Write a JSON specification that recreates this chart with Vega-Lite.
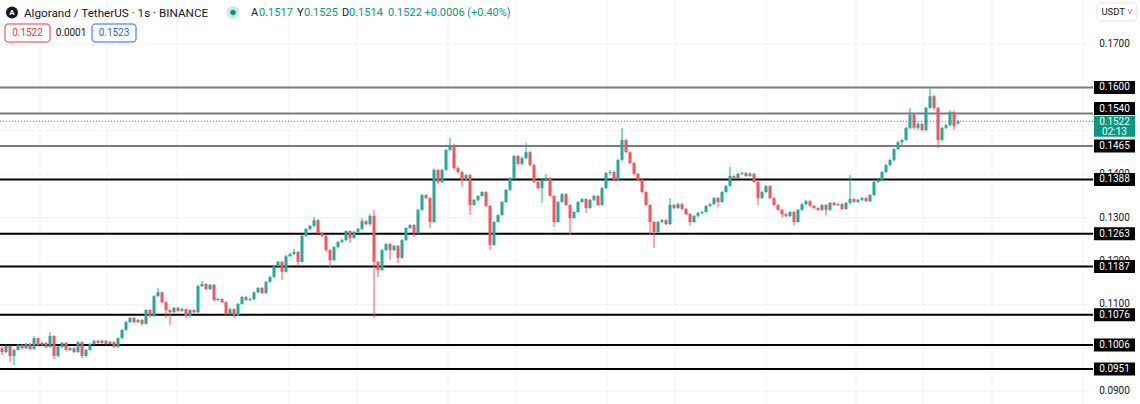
{
"$schema": "https://vega.github.io/schema/vega-lite/v6.json",
"width": 1140, "height": 404, "padding": 0, "autosize": {"type": "none"},
"background": "#ffffff",
"config": {"view": {"stroke": null}, "font": "Roboto", "text": {"font": "Roboto"}, "scale": {"continuousPadding": 0}},
"datasets": {
"candles": [
{"i":0,"o":0.0999,"h":0.1006,"l":0.0983,"c":0.0990},
{"i":1,"o":0.0990,"h":0.1007,"l":0.0987,"c":0.1004},
{"i":2,"o":0.1004,"h":0.1006,"l":0.0967,"c":0.0981},
{"i":3,"o":0.0981,"h":0.0997,"l":0.0960,"c":0.0995},
{"i":4,"o":0.0995,"h":0.1009,"l":0.0993,"c":0.1006},
{"i":5,"o":0.1006,"h":0.1009,"l":0.0996,"c":0.0999},
{"i":6,"o":0.0999,"h":0.1011,"l":0.0997,"c":0.1009},
{"i":7,"o":0.1009,"h":0.1011,"l":0.0994,"c":0.0997},
{"i":8,"o":0.0997,"h":0.1027,"l":0.0995,"c":0.1022},
{"i":9,"o":0.1022,"h":0.1024,"l":0.1003,"c":0.1006},
{"i":10,"o":0.1006,"h":0.1014,"l":0.1003,"c":0.1011},
{"i":11,"o":0.1011,"h":0.1013,"l":0.0999,"c":0.1002},
{"i":12,"o":0.1002,"h":0.1036,"l":0.1000,"c":0.1027},
{"i":13,"o":0.1027,"h":0.1029,"l":0.0974,"c":0.0981},
{"i":14,"o":0.0981,"h":0.1004,"l":0.0978,"c":0.1002},
{"i":15,"o":0.1002,"h":0.1014,"l":0.0999,"c":0.1011},
{"i":16,"o":0.1011,"h":0.1013,"l":0.0992,"c":0.0995},
{"i":17,"o":0.0995,"h":0.1002,"l":0.0992,"c":0.0999},
{"i":18,"o":0.0999,"h":0.1002,"l":0.0988,"c":0.0990},
{"i":19,"o":0.0990,"h":0.1016,"l":0.0988,"c":0.1013},
{"i":20,"o":0.1013,"h":0.1015,"l":0.0976,"c":0.0981},
{"i":21,"o":0.0981,"h":0.0997,"l":0.0979,"c":0.0995},
{"i":22,"o":0.0995,"h":0.1011,"l":0.0993,"c":0.1009},
{"i":23,"o":0.1009,"h":0.1018,"l":0.1006,"c":0.1016},
{"i":24,"o":0.1016,"h":0.1018,"l":0.1009,"c":0.1011},
{"i":25,"o":0.1011,"h":0.1019,"l":0.1009,"c":0.1016},
{"i":26,"o":0.1016,"h":0.1018,"l":0.1006,"c":0.1009},
{"i":27,"o":0.1009,"h":0.1016,"l":0.1007,"c":0.1013},
{"i":28,"o":0.1013,"h":0.1015,"l":0.0999,"c":0.1002},
{"i":29,"o":0.1002,"h":0.1024,"l":0.1000,"c":0.1022},
{"i":30,"o":0.1022,"h":0.1043,"l":0.1020,"c":0.1041},
{"i":31,"o":0.1041,"h":0.1062,"l":0.1039,"c":0.1059},
{"i":32,"o":0.1059,"h":0.1071,"l":0.1057,"c":0.1069},
{"i":33,"o":0.1069,"h":0.1071,"l":0.1057,"c":0.1059},
{"i":34,"o":0.1059,"h":0.1067,"l":0.1057,"c":0.1064},
{"i":35,"o":0.1064,"h":0.1066,"l":0.1052,"c":0.1055},
{"i":36,"o":0.1055,"h":0.1090,"l":0.1053,"c":0.1087},
{"i":37,"o":0.1087,"h":0.1089,"l":0.1069,"c":0.1073},
{"i":38,"o":0.1073,"h":0.1122,"l":0.1071,"c":0.1119},
{"i":39,"o":0.1119,"h":0.1138,"l":0.1117,"c":0.1128},
{"i":40,"o":0.1128,"h":0.1130,"l":0.1103,"c":0.1105},
{"i":41,"o":0.1105,"h":0.1107,"l":0.1069,"c":0.1087},
{"i":42,"o":0.1087,"h":0.1089,"l":0.1052,"c":0.1082},
{"i":43,"o":0.1082,"h":0.1094,"l":0.1080,"c":0.1092},
{"i":44,"o":0.1092,"h":0.1094,"l":0.1082,"c":0.1085},
{"i":45,"o":0.1085,"h":0.1092,"l":0.1083,"c":0.1089},
{"i":46,"o":0.1089,"h":0.1091,"l":0.1069,"c":0.1073},
{"i":47,"o":0.1073,"h":0.1089,"l":0.1071,"c":0.1087},
{"i":48,"o":0.1087,"h":0.1089,"l":0.1080,"c":0.1082},
{"i":49,"o":0.1082,"h":0.1145,"l":0.1080,"c":0.1142},
{"i":50,"o":0.1142,"h":0.1154,"l":0.1140,"c":0.1147},
{"i":51,"o":0.1147,"h":0.1149,"l":0.1133,"c":0.1135},
{"i":52,"o":0.1135,"h":0.1147,"l":0.1133,"c":0.1145},
{"i":53,"o":0.1145,"h":0.1147,"l":0.1107,"c":0.1110},
{"i":54,"o":0.1110,"h":0.1115,"l":0.1107,"c":0.1112},
{"i":55,"o":0.1112,"h":0.1115,"l":0.1103,"c":0.1105},
{"i":56,"o":0.1105,"h":0.1107,"l":0.1073,"c":0.1078},
{"i":57,"o":0.1078,"h":0.1092,"l":0.1075,"c":0.1089},
{"i":58,"o":0.1089,"h":0.1091,"l":0.1069,"c":0.1075},
{"i":59,"o":0.1075,"h":0.1103,"l":0.1073,"c":0.1101},
{"i":60,"o":0.1101,"h":0.1119,"l":0.1099,"c":0.1117},
{"i":61,"o":0.1117,"h":0.1120,"l":0.1108,"c":0.1110},
{"i":62,"o":0.1110,"h":0.1115,"l":0.1107,"c":0.1112},
{"i":63,"o":0.1112,"h":0.1130,"l":0.1110,"c":0.1128},
{"i":64,"o":0.1128,"h":0.1140,"l":0.1126,"c":0.1138},
{"i":65,"o":0.1138,"h":0.1140,"l":0.1124,"c":0.1126},
{"i":66,"o":0.1126,"h":0.1154,"l":0.1124,"c":0.1152},
{"i":67,"o":0.1152,"h":0.1166,"l":0.1150,"c":0.1163},
{"i":68,"o":0.1163,"h":0.1191,"l":0.1161,"c":0.1188},
{"i":69,"o":0.1188,"h":0.1200,"l":0.1186,"c":0.1198},
{"i":70,"o":0.1198,"h":0.1200,"l":0.1156,"c":0.1175},
{"i":71,"o":0.1175,"h":0.1214,"l":0.1173,"c":0.1211},
{"i":72,"o":0.1211,"h":0.1219,"l":0.1209,"c":0.1216},
{"i":73,"o":0.1216,"h":0.1228,"l":0.1214,"c":0.1221},
{"i":74,"o":0.1221,"h":0.1223,"l":0.1191,"c":0.1198},
{"i":75,"o":0.1198,"h":0.1260,"l":0.1196,"c":0.1258},
{"i":76,"o":0.1258,"h":0.1276,"l":0.1255,"c":0.1274},
{"i":77,"o":0.1274,"h":0.1283,"l":0.1271,"c":0.1281},
{"i":78,"o":0.1281,"h":0.1301,"l":0.1278,"c":0.1294},
{"i":79,"o":0.1294,"h":0.1297,"l":0.1262,"c":0.1264},
{"i":80,"o":0.1264,"h":0.1267,"l":0.1255,"c":0.1258},
{"i":81,"o":0.1258,"h":0.1260,"l":0.1221,"c":0.1225},
{"i":82,"o":0.1225,"h":0.1228,"l":0.1184,"c":0.1202},
{"i":83,"o":0.1202,"h":0.1235,"l":0.1200,"c":0.1232},
{"i":84,"o":0.1232,"h":0.1246,"l":0.1230,"c":0.1244},
{"i":85,"o":0.1244,"h":0.1251,"l":0.1241,"c":0.1248},
{"i":86,"o":0.1248,"h":0.1271,"l":0.1246,"c":0.1269},
{"i":87,"o":0.1269,"h":0.1271,"l":0.1241,"c":0.1253},
{"i":88,"o":0.1253,"h":0.1269,"l":0.1251,"c":0.1267},
{"i":89,"o":0.1267,"h":0.1276,"l":0.1264,"c":0.1274},
{"i":90,"o":0.1274,"h":0.1299,"l":0.1271,"c":0.1292},
{"i":91,"o":0.1292,"h":0.1294,"l":0.1283,"c":0.1285},
{"i":92,"o":0.1285,"h":0.1308,"l":0.1281,"c":0.1304},
{"i":93,"o":0.1304,"h":0.1318,"l":0.1069,"c":0.1198},
{"i":94,"o":0.1198,"h":0.1200,"l":0.1163,"c":0.1179},
{"i":95,"o":0.1179,"h":0.1228,"l":0.1177,"c":0.1225},
{"i":96,"o":0.1225,"h":0.1241,"l":0.1223,"c":0.1239},
{"i":97,"o":0.1239,"h":0.1241,"l":0.1202,"c":0.1225},
{"i":98,"o":0.1225,"h":0.1237,"l":0.1223,"c":0.1235},
{"i":99,"o":0.1235,"h":0.1237,"l":0.1195,"c":0.1207},
{"i":100,"o":0.1207,"h":0.1251,"l":0.1205,"c":0.1248},
{"i":101,"o":0.1248,"h":0.1278,"l":0.1246,"c":0.1276},
{"i":102,"o":0.1276,"h":0.1285,"l":0.1274,"c":0.1283},
{"i":103,"o":0.1283,"h":0.1285,"l":0.1255,"c":0.1264},
{"i":104,"o":0.1264,"h":0.1320,"l":0.1262,"c":0.1318},
{"i":105,"o":0.1318,"h":0.1355,"l":0.1315,"c":0.1352},
{"i":106,"o":0.1352,"h":0.1355,"l":0.1343,"c":0.1345},
{"i":107,"o":0.1345,"h":0.1348,"l":0.1276,"c":0.1290},
{"i":108,"o":0.1290,"h":0.1414,"l":0.1288,"c":0.1410},
{"i":109,"o":0.1410,"h":0.1412,"l":0.1377,"c":0.1382},
{"i":110,"o":0.1382,"h":0.1412,"l":0.1380,"c":0.1410},
{"i":111,"o":0.1410,"h":0.1458,"l":0.1408,"c":0.1456},
{"i":112,"o":0.1456,"h":0.1484,"l":0.1453,"c":0.1467},
{"i":113,"o":0.1467,"h":0.1470,"l":0.1410,"c":0.1414},
{"i":114,"o":0.1414,"h":0.1417,"l":0.1401,"c":0.1405},
{"i":115,"o":0.1405,"h":0.1408,"l":0.1371,"c":0.1387},
{"i":116,"o":0.1387,"h":0.1401,"l":0.1384,"c":0.1398},
{"i":117,"o":0.1398,"h":0.1401,"l":0.1306,"c":0.1329},
{"i":118,"o":0.1329,"h":0.1343,"l":0.1327,"c":0.1341},
{"i":119,"o":0.1341,"h":0.1352,"l":0.1338,"c":0.1350},
{"i":120,"o":0.1350,"h":0.1361,"l":0.1348,"c":0.1359},
{"i":121,"o":0.1359,"h":0.1361,"l":0.1324,"c":0.1327},
{"i":122,"o":0.1327,"h":0.1329,"l":0.1225,"c":0.1237},
{"i":123,"o":0.1237,"h":0.1292,"l":0.1235,"c":0.1290},
{"i":124,"o":0.1290,"h":0.1308,"l":0.1288,"c":0.1306},
{"i":125,"o":0.1306,"h":0.1338,"l":0.1304,"c":0.1336},
{"i":126,"o":0.1336,"h":0.1366,"l":0.1334,"c":0.1364},
{"i":127,"o":0.1364,"h":0.1394,"l":0.1361,"c":0.1391},
{"i":128,"o":0.1391,"h":0.1444,"l":0.1389,"c":0.1442},
{"i":129,"o":0.1442,"h":0.1444,"l":0.1421,"c":0.1424},
{"i":130,"o":0.1424,"h":0.1440,"l":0.1421,"c":0.1437},
{"i":131,"o":0.1437,"h":0.1472,"l":0.1435,"c":0.1451},
{"i":132,"o":0.1451,"h":0.1453,"l":0.1419,"c":0.1421},
{"i":133,"o":0.1421,"h":0.1424,"l":0.1380,"c":0.1382},
{"i":134,"o":0.1382,"h":0.1384,"l":0.1366,"c":0.1368},
{"i":135,"o":0.1368,"h":0.1389,"l":0.1334,"c":0.1387},
{"i":136,"o":0.1387,"h":0.1401,"l":0.1384,"c":0.1391},
{"i":137,"o":0.1391,"h":0.1394,"l":0.1348,"c":0.1350},
{"i":138,"o":0.1350,"h":0.1352,"l":0.1278,"c":0.1290},
{"i":139,"o":0.1290,"h":0.1338,"l":0.1288,"c":0.1336},
{"i":140,"o":0.1336,"h":0.1357,"l":0.1334,"c":0.1354},
{"i":141,"o":0.1354,"h":0.1357,"l":0.1327,"c":0.1329},
{"i":142,"o":0.1329,"h":0.1331,"l":0.1260,"c":0.1299},
{"i":143,"o":0.1299,"h":0.1315,"l":0.1297,"c":0.1313},
{"i":144,"o":0.1313,"h":0.1338,"l":0.1311,"c":0.1336},
{"i":145,"o":0.1336,"h":0.1345,"l":0.1334,"c":0.1343},
{"i":146,"o":0.1343,"h":0.1345,"l":0.1311,"c":0.1322},
{"i":147,"o":0.1322,"h":0.1343,"l":0.1320,"c":0.1341},
{"i":148,"o":0.1341,"h":0.1352,"l":0.1338,"c":0.1350},
{"i":149,"o":0.1350,"h":0.1352,"l":0.1327,"c":0.1329},
{"i":150,"o":0.1329,"h":0.1371,"l":0.1327,"c":0.1368},
{"i":151,"o":0.1368,"h":0.1405,"l":0.1366,"c":0.1403},
{"i":152,"o":0.1403,"h":0.1410,"l":0.1398,"c":0.1405},
{"i":153,"o":0.1405,"h":0.1408,"l":0.1384,"c":0.1387},
{"i":154,"o":0.1387,"h":0.1435,"l":0.1384,"c":0.1433},
{"i":155,"o":0.1433,"h":0.1507,"l":0.1430,"c":0.1479},
{"i":156,"o":0.1479,"h":0.1481,"l":0.1449,"c":0.1451},
{"i":157,"o":0.1451,"h":0.1453,"l":0.1424,"c":0.1426},
{"i":158,"o":0.1426,"h":0.1428,"l":0.1398,"c":0.1401},
{"i":159,"o":0.1401,"h":0.1403,"l":0.1384,"c":0.1387},
{"i":160,"o":0.1387,"h":0.1389,"l":0.1357,"c":0.1359},
{"i":161,"o":0.1359,"h":0.1361,"l":0.1327,"c":0.1329},
{"i":162,"o":0.1329,"h":0.1331,"l":0.1260,"c":0.1290},
{"i":163,"o":0.1290,"h":0.1292,"l":0.1230,"c":0.1267},
{"i":164,"o":0.1267,"h":0.1292,"l":0.1264,"c":0.1290},
{"i":165,"o":0.1290,"h":0.1297,"l":0.1288,"c":0.1294},
{"i":166,"o":0.1294,"h":0.1297,"l":0.1283,"c":0.1285},
{"i":167,"o":0.1285,"h":0.1345,"l":0.1283,"c":0.1329},
{"i":168,"o":0.1329,"h":0.1331,"l":0.1320,"c":0.1322},
{"i":169,"o":0.1322,"h":0.1334,"l":0.1320,"c":0.1331},
{"i":170,"o":0.1331,"h":0.1334,"l":0.1318,"c":0.1320},
{"i":171,"o":0.1320,"h":0.1322,"l":0.1306,"c":0.1308},
{"i":172,"o":0.1308,"h":0.1311,"l":0.1281,"c":0.1290},
{"i":173,"o":0.1290,"h":0.1306,"l":0.1288,"c":0.1304},
{"i":174,"o":0.1304,"h":0.1313,"l":0.1301,"c":0.1311},
{"i":175,"o":0.1311,"h":0.1315,"l":0.1308,"c":0.1313},
{"i":176,"o":0.1313,"h":0.1329,"l":0.1311,"c":0.1327},
{"i":177,"o":0.1327,"h":0.1334,"l":0.1324,"c":0.1331},
{"i":178,"o":0.1331,"h":0.1348,"l":0.1329,"c":0.1345},
{"i":179,"o":0.1345,"h":0.1348,"l":0.1324,"c":0.1336},
{"i":180,"o":0.1336,"h":0.1361,"l":0.1334,"c":0.1359},
{"i":181,"o":0.1359,"h":0.1375,"l":0.1357,"c":0.1373},
{"i":182,"o":0.1373,"h":0.1417,"l":0.1371,"c":0.1396},
{"i":183,"o":0.1396,"h":0.1398,"l":0.1389,"c":0.1391},
{"i":184,"o":0.1391,"h":0.1403,"l":0.1389,"c":0.1401},
{"i":185,"o":0.1401,"h":0.1405,"l":0.1398,"c":0.1403},
{"i":186,"o":0.1403,"h":0.1405,"l":0.1394,"c":0.1396},
{"i":187,"o":0.1396,"h":0.1405,"l":0.1394,"c":0.1401},
{"i":188,"o":0.1401,"h":0.1403,"l":0.1380,"c":0.1382},
{"i":189,"o":0.1382,"h":0.1384,"l":0.1329,"c":0.1345},
{"i":190,"o":0.1345,"h":0.1361,"l":0.1343,"c":0.1359},
{"i":191,"o":0.1359,"h":0.1375,"l":0.1357,"c":0.1373},
{"i":192,"o":0.1373,"h":0.1375,"l":0.1343,"c":0.1345},
{"i":193,"o":0.1345,"h":0.1348,"l":0.1327,"c":0.1329},
{"i":194,"o":0.1329,"h":0.1331,"l":0.1315,"c":0.1318},
{"i":195,"o":0.1318,"h":0.1320,"l":0.1301,"c":0.1308},
{"i":196,"o":0.1308,"h":0.1311,"l":0.1301,"c":0.1304},
{"i":197,"o":0.1304,"h":0.1315,"l":0.1301,"c":0.1313},
{"i":198,"o":0.1313,"h":0.1315,"l":0.1281,"c":0.1290},
{"i":199,"o":0.1290,"h":0.1320,"l":0.1288,"c":0.1318},
{"i":200,"o":0.1318,"h":0.1334,"l":0.1315,"c":0.1331},
{"i":201,"o":0.1331,"h":0.1341,"l":0.1329,"c":0.1338},
{"i":202,"o":0.1338,"h":0.1341,"l":0.1324,"c":0.1327},
{"i":203,"o":0.1327,"h":0.1329,"l":0.1320,"c":0.1322},
{"i":204,"o":0.1322,"h":0.1324,"l":0.1315,"c":0.1318},
{"i":205,"o":0.1318,"h":0.1331,"l":0.1315,"c":0.1329},
{"i":206,"o":0.1329,"h":0.1331,"l":0.1304,"c":0.1318},
{"i":207,"o":0.1318,"h":0.1336,"l":0.1315,"c":0.1334},
{"i":208,"o":0.1334,"h":0.1336,"l":0.1327,"c":0.1329},
{"i":209,"o":0.1329,"h":0.1334,"l":0.1327,"c":0.1331},
{"i":210,"o":0.1331,"h":0.1334,"l":0.1318,"c":0.1320},
{"i":211,"o":0.1320,"h":0.1336,"l":0.1318,"c":0.1334},
{"i":212,"o":0.1334,"h":0.1398,"l":0.1331,"c":0.1343},
{"i":213,"o":0.1343,"h":0.1345,"l":0.1334,"c":0.1336},
{"i":214,"o":0.1336,"h":0.1343,"l":0.1334,"c":0.1341},
{"i":215,"o":0.1341,"h":0.1348,"l":0.1338,"c":0.1345},
{"i":216,"o":0.1345,"h":0.1348,"l":0.1336,"c":0.1338},
{"i":217,"o":0.1338,"h":0.1354,"l":0.1336,"c":0.1352},
{"i":218,"o":0.1352,"h":0.1384,"l":0.1350,"c":0.1382},
{"i":219,"o":0.1382,"h":0.1389,"l":0.1380,"c":0.1387},
{"i":220,"o":0.1387,"h":0.1408,"l":0.1384,"c":0.1405},
{"i":221,"o":0.1405,"h":0.1424,"l":0.1403,"c":0.1421},
{"i":222,"o":0.1421,"h":0.1435,"l":0.1419,"c":0.1433},
{"i":223,"o":0.1433,"h":0.1460,"l":0.1430,"c":0.1458},
{"i":224,"o":0.1458,"h":0.1476,"l":0.1456,"c":0.1474},
{"i":225,"o":0.1474,"h":0.1481,"l":0.1465,"c":0.1479},
{"i":226,"o":0.1479,"h":0.1509,"l":0.1476,"c":0.1507},
{"i":227,"o":0.1507,"h":0.1553,"l":0.1504,"c":0.1537},
{"i":228,"o":0.1537,"h":0.1539,"l":0.1504,"c":0.1507},
{"i":229,"o":0.1507,"h":0.1520,"l":0.1502,"c":0.1516},
{"i":230,"o":0.1516,"h":0.1518,"l":0.1499,"c":0.1502},
{"i":231,"o":0.1502,"h":0.1555,"l":0.1499,"c":0.1553},
{"i":232,"o":0.1553,"h":0.1601,"l":0.1551,"c":0.1580},
{"i":233,"o":0.1580,"h":0.1583,"l":0.1548,"c":0.1553},
{"i":234,"o":0.1553,"h":0.1555,"l":0.1460,"c":0.1479},
{"i":235,"o":0.1479,"h":0.1509,"l":0.1476,"c":0.1507},
{"i":236,"o":0.1507,"h":0.1516,"l":0.1504,"c":0.1513},
{"i":237,"o":0.1513,"h":0.1548,"l":0.1511,"c":0.1543},
{"i":238,"o":0.1543,"h":0.1546,"l":0.1502,"c":0.1511},
{"i":239,"o":0.1517,"h":0.1525,"l":0.1514,"c":0.1522}
],
"levels": [
{"v":0.16,"t":"0.1600"},{"v":0.154,"t":"0.1540"},{"v":0.1465,"t":"0.1465"},
{"v":0.1388,"t":"0.1388"},{"v":0.1263,"t":"0.1263"},{"v":0.1187,"t":"0.1187"},
{"v":0.1076,"t":"0.1076"},{"v":0.1006,"t":"0.1006"},{"v":0.0951,"t":"0.0951"}
],
"ticks": [
{"v":0.17,"t":"0.1700","show":true},{"v":0.16,"t":"0.1600","show":false},{"v":0.15,"t":"0.1500","show":false},{"v":0.14,"t":"0.1400","show":true},
{"v":0.13,"t":"0.1300","show":true},{"v":0.12,"t":"0.1200","show":true},{"v":0.11,"t":"0.1100","show":true},{"v":0.10,"t":"0.1000","show":false},{"v":0.09,"t":"0.0900","show":true}
],
"vgrid": [
{"x":9.5},{"x":26.25},{"x":43.75},{"x":71.75},{"x":88.75},{"x":111.5},{"x":128.5},{"x":151.25},
{"x":168.25},{"x":191},{"x":213.5},{"x":230.25},{"x":247.5},{"x":270.25}
]
},
"layer": [
{"data":{"name":"ticks"},"mark":{"type":"rule","color":"#f0f3fa","strokeWidth":1},
 "encoding":{"x":{"datum":-0.5,"type":"quantitative","scale":{"domain":[-0.5,284.5],"nice":false,"zero":false,"padding":0},"axis":null},"x2":{"datum":272.25},
 "y":{"field":"v","type":"quantitative","scale":{"domain":[0.087026,0.180168],"nice":false,"zero":false,"padding":0},"axis":null}}},
{"data":{"name":"vgrid"},"mark":{"type":"rule","color":"#f0f3fa","strokeWidth":1},
 "encoding":{"x":{"field":"x","type":"quantitative","scale":{"domain":[-0.5,284.5],"nice":false,"zero":false,"padding":0},"axis":null}}},
{"data":{"name":"levels"},"transform":[{"filter":"datum.v > 0.145"}],"mark":{"type":"rule","color":"#7b7b7b","strokeWidth":2},
 "encoding":{"x":{"datum":-0.5,"type":"quantitative","scale":{"domain":[-0.5,284.5],"nice":false,"zero":false,"padding":0},"axis":null},"x2":{"datum":272.75},
 "y":{"field":"v","type":"quantitative","scale":{"domain":[0.087026,0.180168],"nice":false,"zero":false,"padding":0},"axis":null}}},
{"data":{"name":"levels"},"transform":[{"filter":"datum.v < 0.145"}],"mark":{"type":"rule","color":"#000000","strokeWidth":2},
 "encoding":{"x":{"datum":-0.5,"type":"quantitative","scale":{"domain":[-0.5,284.5],"nice":false,"zero":false,"padding":0},"axis":null},"x2":{"datum":272.75},
 "y":{"field":"v","type":"quantitative","scale":{"domain":[0.087026,0.180168],"nice":false,"zero":false,"padding":0},"axis":null}}},
{"data":{"values":[{}]},"mark":{"type":"rule","color":"#089981","strokeWidth":1,"strokeDash":[1,2]},
 "encoding":{"x":{"datum":-0.5,"type":"quantitative","scale":{"domain":[-0.5,284.5],"nice":false,"zero":false,"padding":0},"axis":null},"x2":{"datum":272.75},
 "y":{"datum":0.1522,"type":"quantitative","scale":{"domain":[0.087026,0.180168],"nice":false,"zero":false,"padding":0},"axis":null}}},
{"data":{"name":"candles"},"mark":{"type":"rule","strokeWidth":1},
 "encoding":{"x":{"field":"i","type":"quantitative","scale":{"domain":[-0.5,284.5],"nice":false,"zero":false,"padding":0},"axis":null},
 "y":{"field":"l","type":"quantitative","scale":{"domain":[0.087026,0.180168],"nice":false,"zero":false,"padding":0},"axis":null},"y2":{"field":"h"},
 "color":{"condition":{"test":"datum.c >= datum.o","value":"#22ab94"},"value":"#f7525f"}}},
{"data":{"name":"candles"},"mark":{"type":"bar","size":3},
 "encoding":{"x":{"field":"i","type":"quantitative","scale":{"domain":[-0.5,284.5],"nice":false,"zero":false,"padding":0},"axis":null},
 "y":{"field":"o","type":"quantitative","scale":{"domain":[0.087026,0.180168],"nice":false,"zero":false,"padding":0},"axis":null},"y2":{"field":"c"},
 "color":{"condition":{"test":"datum.c >= datum.o","value":"#22ab94"},"value":"#f7525f"}}},
{"data":{"name":"ticks"},"transform":[{"filter":"datum.show"}],"mark":{"type":"text","fontSize":10,"color":"#131722","align":"center","baseline":"middle"},
 "encoding":{"x":{"datum":278.125,"type":"quantitative","scale":{"domain":[-0.5,284.5],"nice":false,"zero":false,"padding":0},"axis":null},
 "y":{"field":"v","type":"quantitative","scale":{"domain":[0.087026,0.180168],"nice":false,"zero":false,"padding":0},"axis":null},"text":{"field":"t"}}},
{"data":{"name":"levels"},"transform":[{"filter":"datum.v != 0.154"}],"mark":{"type":"tick","orient":"horizontal","size":41,"thickness":13,"color":"#000000","opacity":1},
 "encoding":{"x":{"datum":278.125,"type":"quantitative","scale":{"domain":[-0.5,284.5],"nice":false,"zero":false,"padding":0},"axis":null},
 "y":{"field":"v","type":"quantitative","scale":{"domain":[0.087026,0.180168],"nice":false,"zero":false,"padding":0},"axis":null}}},
{"data":{"name":"levels"},"transform":[{"filter":"datum.v != 0.154"}],"mark":{"type":"text","fontSize":10,"color":"#ffffff","align":"center","baseline":"middle"},
 "encoding":{"x":{"datum":278.125,"type":"quantitative","scale":{"domain":[-0.5,284.5],"nice":false,"zero":false,"padding":0},"axis":null},
 "y":{"field":"v","type":"quantitative","scale":{"domain":[0.087026,0.180168],"nice":false,"zero":false,"padding":0},"axis":null},"text":{"field":"t"}}},
{"data":{"name":"levels"},"transform":[{"filter":"datum.v == 0.154"}],"mark":{"type":"tick","orient":"horizontal","size":41,"thickness":13,"color":"#000000","opacity":1,"yOffset":-5},
 "encoding":{"x":{"datum":278.125,"type":"quantitative","scale":{"domain":[-0.5,284.5],"nice":false,"zero":false,"padding":0},"axis":null},
 "y":{"field":"v","type":"quantitative","scale":{"domain":[0.087026,0.180168],"nice":false,"zero":false,"padding":0},"axis":null}}},
{"data":{"name":"levels"},"transform":[{"filter":"datum.v == 0.154"}],"mark":{"type":"text","fontSize":10,"color":"#ffffff","align":"center","baseline":"middle","yOffset":-5},
 "encoding":{"x":{"datum":278.125,"type":"quantitative","scale":{"domain":[-0.5,284.5],"nice":false,"zero":false,"padding":0},"axis":null},
 "y":{"field":"v","type":"quantitative","scale":{"domain":[0.087026,0.180168],"nice":false,"zero":false,"padding":0},"axis":null},"text":{"field":"t"}}},
{"data":{"values":[{}]},"mark":{"type":"tick","orient":"horizontal","size":41,"thickness":21,"color":"#089981","opacity":1,"yOffset":5},
 "encoding":{"x":{"datum":278.125,"type":"quantitative","scale":{"domain":[-0.5,284.5],"nice":false,"zero":false,"padding":0},"axis":null},
 "y":{"datum":0.1522,"type":"quantitative","scale":{"domain":[0.087026,0.180168],"nice":false,"zero":false,"padding":0},"axis":null}}},
{"data":{"values":[{}]},"mark":{"type":"text","fontSize":10,"color":"#ffffff","align":"center","baseline":"middle","yOffset":1},
 "encoding":{"x":{"datum":278.125,"type":"quantitative","scale":{"domain":[-0.5,284.5],"nice":false,"zero":false,"padding":0},"axis":null},
 "y":{"datum":0.1522,"type":"quantitative","scale":{"domain":[0.087026,0.180168],"nice":false,"zero":false,"padding":0},"axis":null},"text":{"value":"0.1522"}}},
{"data":{"values":[{}]},"mark":{"type":"text","fontSize":10,"color":"#ffffff","align":"center","baseline":"middle","yOffset":11},
 "encoding":{"x":{"datum":278.125,"type":"quantitative","scale":{"domain":[-0.5,284.5],"nice":false,"zero":false,"padding":0},"axis":null},
 "y":{"datum":0.1522,"type":"quantitative","scale":{"domain":[0.087026,0.180168],"nice":false,"zero":false,"padding":0},"axis":null},"text":{"value":"02:13"}}},
{"data":{"values":[{}]},"mark":{"type":"tick","orient":"horizontal","size":40,"thickness":18,"fill":"#ffffff","stroke":"#e0e3eb","strokeWidth":1,"opacity":1,"cornerRadius":4},
 "encoding":{"x":{"datum":278.75,"type":"quantitative","scale":{"domain":[-0.5,284.5],"nice":false,"zero":false,"padding":0},"axis":null},
 "y":{"datum":0.177401,"type":"quantitative","scale":{"domain":[0.087026,0.180168],"nice":false,"zero":false,"padding":0},"axis":null}}},
{"data":{"values":[{}]},"mark":{"type":"text","fontSize":9.5,"color":"#131722","align":"center","baseline":"middle"},
 "encoding":{"x":{"datum":278.75,"type":"quantitative","scale":{"domain":[-0.5,284.5],"nice":false,"zero":false,"padding":0},"axis":null},
 "y":{"datum":0.177401,"type":"quantitative","scale":{"domain":[0.087026,0.180168],"nice":false,"zero":false,"padding":0},"axis":null},"text":{"value":"USDT ˅"}}},
{"data":{"values":[{}]},"mark":{"type":"point","shape":"circle","filled":true,"size":144,"color":"#131722","opacity":1},
 "encoding":{"x":{"datum":2.5,"type":"quantitative","scale":{"domain":[-0.5,284.5],"nice":false,"zero":false,"padding":0},"axis":null},
 "y":{"datum":0.177286,"type":"quantitative","scale":{"domain":[0.087026,0.180168],"nice":false,"zero":false,"padding":0},"axis":null}}},
{"data":{"values":[{}]},"mark":{"type":"text","fontSize":8,"fontWeight":"bold","color":"#ffffff","align":"center","baseline":"middle"},
 "encoding":{"x":{"datum":2.5,"type":"quantitative","scale":{"domain":[-0.5,284.5],"nice":false,"zero":false,"padding":0},"axis":null},
 "y":{"datum":0.177286,"type":"quantitative","scale":{"domain":[0.087026,0.180168],"nice":false,"zero":false,"padding":0},"axis":null},"text":{"value":"A"}}},
{"data":{"values":[{}]},"mark":{"type":"text","fontSize":11.7,"color":"#131722","align":"left","baseline":"middle"},
 "encoding":{"x":{"datum":5.5,"type":"quantitative","scale":{"domain":[-0.5,284.5],"nice":false,"zero":false,"padding":0},"axis":null},
 "y":{"datum":0.177286,"type":"quantitative","scale":{"domain":[0.087026,0.180168],"nice":false,"zero":false,"padding":0},"axis":null},"text":{"value":"Algorand / TetherUS · 1s · BINANCE"}}},
{"data":{"values":[{}]},"mark":{"type":"point","shape":"circle","filled":true,"size":169,"color":"#cdebe4","opacity":1},
 "encoding":{"x":{"datum":57.75,"type":"quantitative","scale":{"domain":[-0.5,284.5],"nice":false,"zero":false,"padding":0},"axis":null},
 "y":{"datum":0.177286,"type":"quantitative","scale":{"domain":[0.087026,0.180168],"nice":false,"zero":false,"padding":0},"axis":null}}},
{"data":{"values":[{}]},"mark":{"type":"point","shape":"circle","filled":true,"size":30,"color":"#089981","opacity":1},
 "encoding":{"x":{"datum":57.75,"type":"quantitative","scale":{"domain":[-0.5,284.5],"nice":false,"zero":false,"padding":0},"axis":null},
 "y":{"datum":0.177286,"type":"quantitative","scale":{"domain":[0.087026,0.180168],"nice":false,"zero":false,"padding":0},"axis":null}}},
{"data":{"values":[{}]},"mark":{"type":"text","fontSize":11,"color":"#131722","align":"left","baseline":"middle"},
 "encoding":{"x":{"datum":62.25,"type":"quantitative","scale":{"domain":[-0.5,284.5],"nice":false,"zero":false,"padding":0},"axis":null},
 "y":{"datum":0.177286,"type":"quantitative","scale":{"domain":[0.087026,0.180168],"nice":false,"zero":false,"padding":0},"axis":null},"text":{"value":"A"}}},
{"data":{"values":[{}]},"mark":{"type":"text","fontSize":11,"color":"#089981","align":"left","baseline":"middle"},
 "encoding":{"x":{"datum":64.25,"type":"quantitative","scale":{"domain":[-0.5,284.5],"nice":false,"zero":false,"padding":0},"axis":null},
 "y":{"datum":0.177286,"type":"quantitative","scale":{"domain":[0.087026,0.180168],"nice":false,"zero":false,"padding":0},"axis":null},"text":{"value":"0.1517"}}},
{"data":{"values":[{}]},"mark":{"type":"text","fontSize":11,"color":"#131722","align":"left","baseline":"middle"},
 "encoding":{"x":{"datum":73.75,"type":"quantitative","scale":{"domain":[-0.5,284.5],"nice":false,"zero":false,"padding":0},"axis":null},
 "y":{"datum":0.177286,"type":"quantitative","scale":{"domain":[0.087026,0.180168],"nice":false,"zero":false,"padding":0},"axis":null},"text":{"value":"Y"}}},
{"data":{"values":[{}]},"mark":{"type":"text","fontSize":11,"color":"#089981","align":"left","baseline":"middle"},
 "encoding":{"x":{"datum":75.5,"type":"quantitative","scale":{"domain":[-0.5,284.5],"nice":false,"zero":false,"padding":0},"axis":null},
 "y":{"datum":0.177286,"type":"quantitative","scale":{"domain":[0.087026,0.180168],"nice":false,"zero":false,"padding":0},"axis":null},"text":{"value":"0.1525"}}},
{"data":{"values":[{}]},"mark":{"type":"text","fontSize":11,"color":"#131722","align":"left","baseline":"middle"},
 "encoding":{"x":{"datum":85.0,"type":"quantitative","scale":{"domain":[-0.5,284.5],"nice":false,"zero":false,"padding":0},"axis":null},
 "y":{"datum":0.177286,"type":"quantitative","scale":{"domain":[0.087026,0.180168],"nice":false,"zero":false,"padding":0},"axis":null},"text":{"value":"D"}}},
{"data":{"values":[{}]},"mark":{"type":"text","fontSize":11,"color":"#089981","align":"left","baseline":"middle"},
 "encoding":{"x":{"datum":86.75,"type":"quantitative","scale":{"domain":[-0.5,284.5],"nice":false,"zero":false,"padding":0},"axis":null},
 "y":{"datum":0.177286,"type":"quantitative","scale":{"domain":[0.087026,0.180168],"nice":false,"zero":false,"padding":0},"axis":null},"text":{"value":"0.1514"}}},
{"data":{"values":[{}]},"mark":{"type":"text","fontSize":11,"color":"#089981","align":"left","baseline":"middle"},
 "encoding":{"x":{"datum":96.5,"type":"quantitative","scale":{"domain":[-0.5,284.5],"nice":false,"zero":false,"padding":0},"axis":null},
 "y":{"datum":0.177286,"type":"quantitative","scale":{"domain":[0.087026,0.180168],"nice":false,"zero":false,"padding":0},"axis":null},"text":{"value":"0.1522 +0.0006 (+0.40%)"}}},
{"data":{"values":[{}]},"mark":{"type":"tick","orient":"horizontal","size":45,"thickness":18,"fill":"#ffffff","stroke":"#f23645","strokeWidth":1,"opacity":1,"cornerRadius":3},
 "encoding":{"x":{"datum":6.375,"type":"quantitative","scale":{"domain":[-0.5,284.5],"nice":false,"zero":false,"padding":0},"axis":null},
 "y":{"datum":0.17256,"type":"quantitative","scale":{"domain":[0.087026,0.180168],"nice":false,"zero":false,"padding":0},"axis":null}}},
{"data":{"values":[{}]},"mark":{"type":"text","fontSize":10,"color":"#f23645","align":"center","baseline":"middle"},
 "encoding":{"x":{"datum":6.375,"type":"quantitative","scale":{"domain":[-0.5,284.5],"nice":false,"zero":false,"padding":0},"axis":null},
 "y":{"datum":0.17256,"type":"quantitative","scale":{"domain":[0.087026,0.180168],"nice":false,"zero":false,"padding":0},"axis":null},"text":{"value":"0.1522"}}},
{"data":{"values":[{}]},"mark":{"type":"text","fontSize":10,"color":"#131722","align":"center","baseline":"middle"},
 "encoding":{"x":{"datum":17.25,"type":"quantitative","scale":{"domain":[-0.5,284.5],"nice":false,"zero":false,"padding":0},"axis":null},
 "y":{"datum":0.17256,"type":"quantitative","scale":{"domain":[0.087026,0.180168],"nice":false,"zero":false,"padding":0},"axis":null},"text":{"value":"0.0001"}}},
{"data":{"values":[{}]},"mark":{"type":"tick","orient":"horizontal","size":44,"thickness":18,"fill":"#ffffff","stroke":"#2962ff","strokeWidth":1,"opacity":1,"cornerRadius":3},
 "encoding":{"x":{"datum":28.0,"type":"quantitative","scale":{"domain":[-0.5,284.5],"nice":false,"zero":false,"padding":0},"axis":null},
 "y":{"datum":0.17256,"type":"quantitative","scale":{"domain":[0.087026,0.180168],"nice":false,"zero":false,"padding":0},"axis":null}}},
{"data":{"values":[{}]},"mark":{"type":"text","fontSize":10,"color":"#2962ff","align":"center","baseline":"middle"},
 "encoding":{"x":{"datum":28.0,"type":"quantitative","scale":{"domain":[-0.5,284.5],"nice":false,"zero":false,"padding":0},"axis":null},
 "y":{"datum":0.17256,"type":"quantitative","scale":{"domain":[0.087026,0.180168],"nice":false,"zero":false,"padding":0},"axis":null},"text":{"value":"0.1523"}}}
]
}
